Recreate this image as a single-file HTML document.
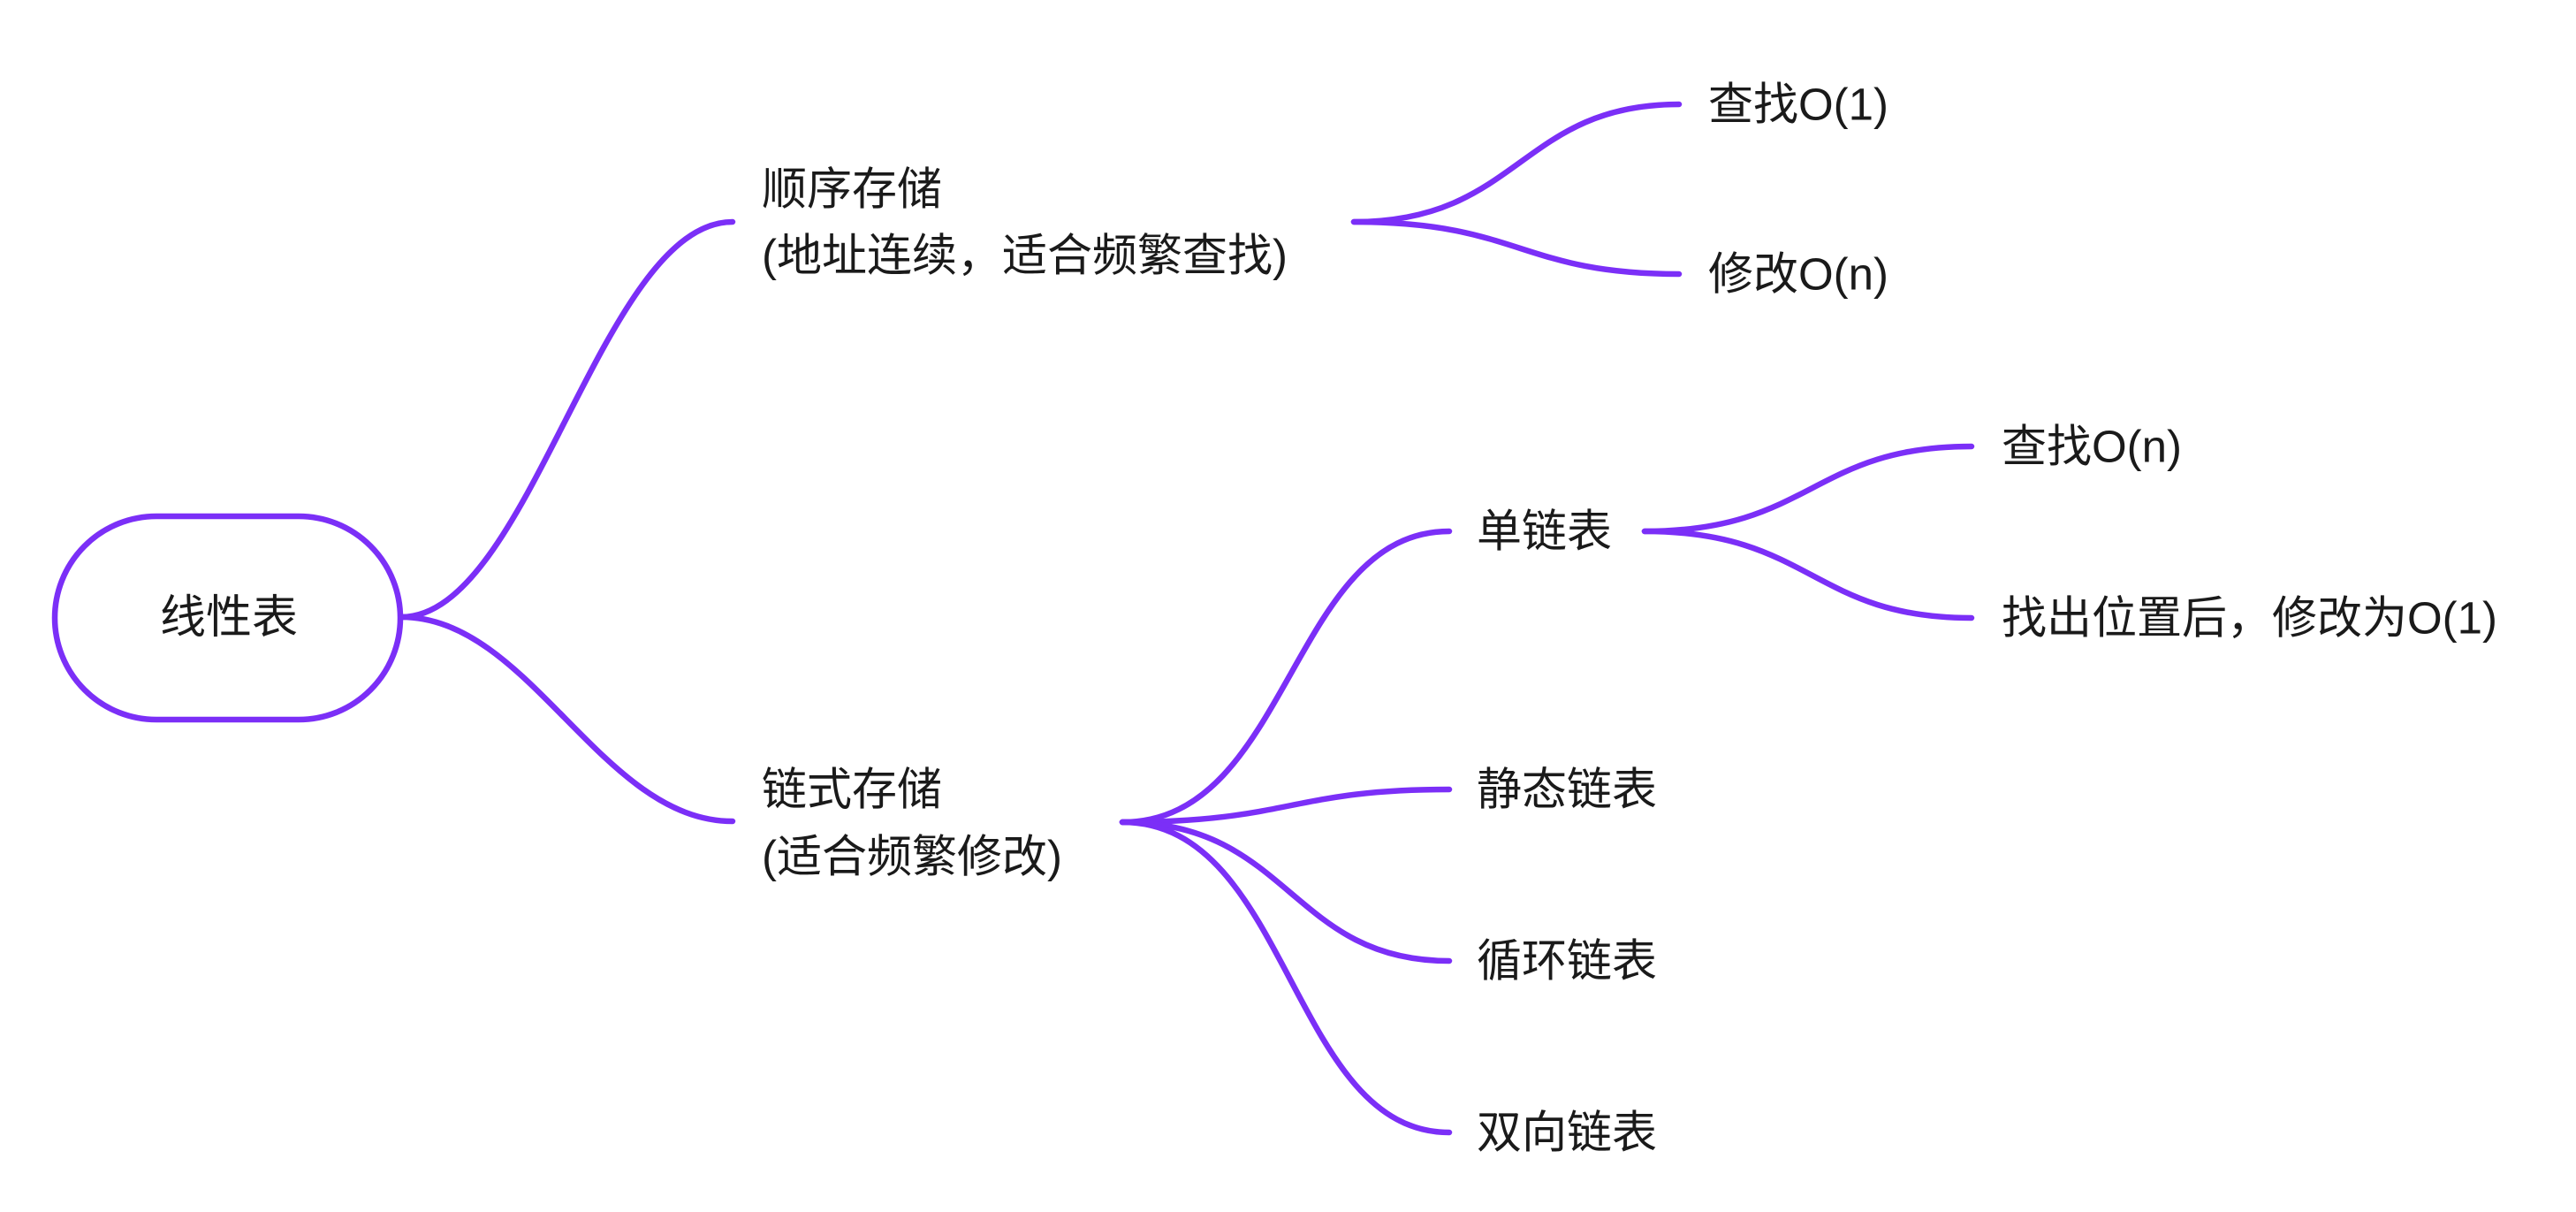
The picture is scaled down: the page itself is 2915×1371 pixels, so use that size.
<!DOCTYPE html>
<html><head><meta charset="utf-8"><style>
html,body{margin:0;padding:0;background:#fff;}
svg{display:block;}
text{font-family:"Liberation Sans","Noto Sans CJK SC",sans-serif;font-size:51px;fill:#1a1a1a;dominant-baseline:central;}
path{fill:none;stroke:#7b2ff7;stroke-width:6.5;stroke-linecap:round;}
</style></head><body>
<svg width="2915" height="1371" viewBox="0 0 2915 1371" xmlns="http://www.w3.org/2000/svg">
<rect x="62" y="584" width="391" height="230" rx="115" ry="115" fill="#fff" stroke="#7b2ff7" stroke-width="6.5"/>
<text x="259" y="699" text-anchor="middle" style="font-size:52px">线性表</text>

<path d="M454 698 C600 698 680 251 829 251"/>
<path d="M454 698 C600 698 680 929 829 929"/>

<text x="862" y="214">顺序存储</text>
<text x="862" y="289">(地址连续，适合频繁查找)</text>
<text x="862" y="893">链式存储</text>
<text x="862" y="969">(适合频繁修改)</text>

<path d="M1532 251 C1720 251 1720 118 1900 118"/>
<path d="M1532 251 C1720 251 1720 310 1900 310"/>
<text x="1933" y="118">查找O(1)</text>
<text x="1933" y="310">修改O(n)</text>

<path d="M1270 930 C1460 930 1460 601 1640 601"/>
<path d="M1270 930 C1460 930 1460 893 1640 893"/>
<path d="M1270 930 C1460 930 1460 1087 1640 1087"/>
<path d="M1270 930 C1460 930 1460 1281 1640 1281"/>
<text x="1671" y="601">单链表</text>
<text x="1671" y="893">静态链表</text>
<text x="1671" y="1087">循环链表</text>
<text x="1671" y="1281">双向链表</text>

<path d="M1861 601 C2050 601 2050 505 2231 505"/>
<path d="M1861 601 C2050 601 2050 699 2231 699"/>
<text x="2265" y="505">查找O(n)</text>
<text x="2265" y="699">找出位置后，修改为O(1)</text>
</svg>
</body></html>
